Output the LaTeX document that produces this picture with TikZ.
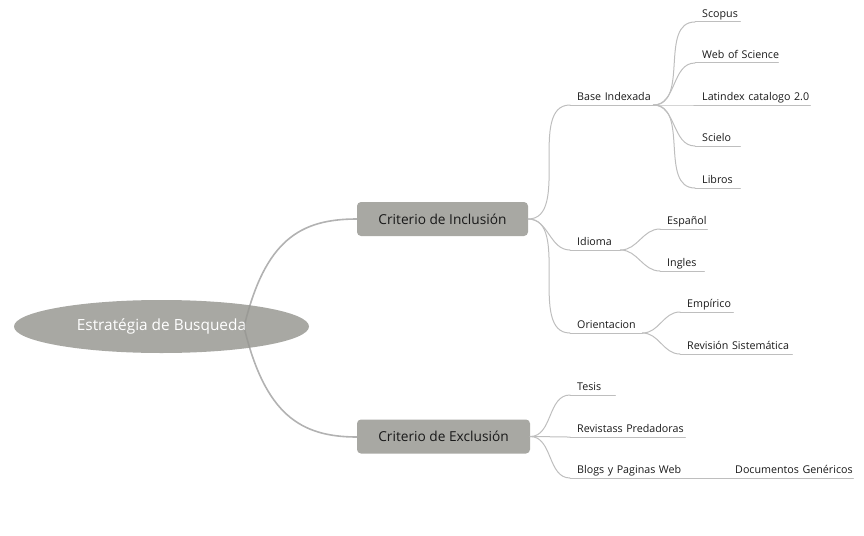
\documentclass[tikz,border=0pt]{standalone}
\usepackage{fontspec}
\setmainfont{Open Sans}
\usetikzlibrary{shapes.geometric}
\definecolor{boxgray}{RGB}{168,168,163}
\definecolor{linkgray}{RGB}{178,178,178}
\definecolor{twiggray}{RGB}{190,190,190}
\definecolor{textgray}{RGB}{25,25,25}
\tikzset{
	root/.style={ellipse,fill=boxgray,text=white,minimum width=295,minimum height=53,inner sep=0pt,font=\fontsize{15.4}{18}\selectfont},
	topic/.style={rectangle,rounded corners=4pt,fill=boxgray,text=textgray,minimum height=34,inner sep=0pt,font=\fontsize{13.7}{16}\selectfont},
	leaf/.style={anchor=south west,text=textgray,inner xsep=0pt,inner ysep=3pt,text width=#1,align=left,text depth=0.25ex,
		execute at begin node={\hspace*{7pt}\hbox\bgroup},execute at end node=\egroup,font=\fontsize{10.7}{13}\selectfont},
	link/.style={draw=linkgray,line width=1.6pt},
	twig/.style={draw=twiggray,line width=1pt}
}
\begin{document}
\begin{tikzpicture}[x=1pt,y=-1pt,line join=round,line cap=round]
	\useasboundingbox (0,0) rectangle (864,535);
	% main branches
	\draw[link] (244,327) .. controls (265,240) and (300,219) .. (357,219);
	\draw[link] (244,327) .. controls (265,414) and (300,437) .. (357,437);
	\node[root] (root) at (161.5,326.5) {Estratégia de Busqueda};
	\begin{scope}
		\clip (root.center) ellipse (147.5 and 26.5);
		\draw[black,draw opacity=0.08,line width=1.6pt] (244,327) .. controls (265,240) and (300,219) .. (357,219);
		\draw[black,draw opacity=0.08,line width=1.6pt] (244,327) .. controls (265,414) and (300,437) .. (357,437);
	\end{scope}
	\node[topic,minimum width=171] (inc) at (442.5,219) {Criterio de Inclusión};
	\node[topic,minimum width=173] (exc) at (443.5,436.5) {Criterio de Exclusión};
	% Inclusion
	\node[leaf=83] (base) at (570,105) {Base Indexada};
	\node[leaf=50] (idio) at (570,250) {Idioma};
	\node[leaf=72] (orie) at (570,333) {Orientacion};
	\node[leaf=45] (scop) at (695,22) {Scopus};
	\node[leaf=83] (wos) at (695,63) {Web of Science};
	\node[leaf=115] (lati) at (695,105) {Latindex catalogo 2.0};
	\node[leaf=45] (scie) at (695,146) {Scielo};
	\node[leaf=45] (libr) at (695,188) {Libros};
	\node[leaf=47] (espa) at (660,229) {Español};
	\node[leaf=44] (ingl) at (660,271) {Ingles};
	\node[leaf=53] (empi) at (680,312) {Empírico};
	\node[leaf=112] (revi) at (680,354) {Revisión Sistemática};
	% Exclusion
	\node[leaf=45] (tesi) at (570,395) {Tesis};
	\node[leaf=115] (pred) at (570,437) {Revistass Predadoras};
	\node[leaf=158] (blog) at (570,478) {Blogs y Paginas Web};
	\node[leaf=125] (docu) at (728,478) {Documentos Genéricos};
	% underlines
	\foreach \n in {base,idio,orie,scop,wos,lati,scie,libr,espa,ingl,empi,revi,tesi,pred,blog,docu}
		\draw[twig] (\n.south west) -- (\n.south east);
	% connectors
	\draw[twig] (inc.east) to[out=0,in=180,looseness=0.9] (base.south west);
	\draw[twig] (inc.east) to[out=0,in=180] (idio.south west);
	\draw[twig] (inc.east) to[out=0,in=180,looseness=0.9] (orie.south west);
	\foreach \n in {scop,wos,lati,scie,libr}
		\draw[twig] (base.south east) to[out=0,in=180] (\n.south west);
	\draw[twig] (idio.south east) to[out=0,in=180] (espa.south west);
	\draw[twig] (idio.south east) to[out=0,in=180] (ingl.south west);
	\draw[twig] (orie.south east) to[out=0,in=180] (empi.south west);
	\draw[twig] (orie.south east) to[out=0,in=180] (revi.south west);
	\draw[twig] (exc.east) to[out=0,in=180] (tesi.south west);
	\draw[twig] (exc.east) to[out=0,in=180] (pred.south west);
	\draw[twig] (exc.east) to[out=0,in=180] (blog.south west);
	\draw[twig] (blog.south east) -- (docu.south west);
\end{tikzpicture}
\end{document}
